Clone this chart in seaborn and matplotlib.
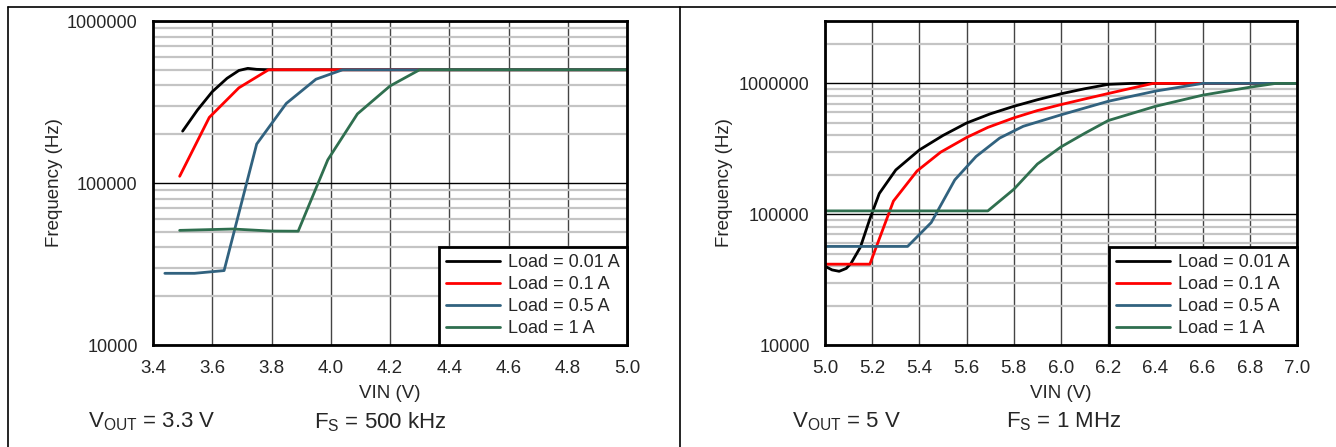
import numpy as np
import pandas as pd
import matplotlib.pyplot as plt
import seaborn as sns
from matplotlib.ticker import LogLocator, FuncFormatter, NullFormatter, MultipleLocator
from matplotlib.lines import Line2D

# ---- data (VIN in V, frequency in Hz) ----
loads = ['Load = 0.01 A', 'Load = 0.1 A', 'Load = 0.5 A', 'Load = 1 A']
colors = ['#000000', '#ff0000', '#31627f', '#2f6f4f']

# VOUT = 3.3 V, FS = 500 kHz
l_vin_001 = [3.50, 3.55, 3.60, 3.65, 3.69, 3.72, 3.75, 3.80, 5.00]
l_f_001 = [209000, 282000, 366000, 443000, 495000, 510000, 503000, 500000, 500000]
l_vin_01 = [3.49, 3.59, 3.69, 3.79, 5.00]
l_f_01 = [110000, 254000, 387000, 500000, 500000]
l_vin_05 = [3.44, 3.54, 3.64, 3.75, 3.85, 3.95, 4.04, 5.00]
l_f_05 = [27700, 27700, 28800, 174000, 310000, 437000, 500000, 500000]
l_vin_1 = [3.49, 3.67, 3.80, 3.89, 3.99, 4.09, 4.20, 4.30, 5.00]
l_f_1 = [51000, 52000, 50500, 50400, 139000, 267000, 397000, 500000, 500000]

# VOUT = 5 V, FS = 1 MHz
r_vin_001 = [5.00, 5.03, 5.06, 5.09, 5.11, 5.15, 5.19, 5.23, 5.30, 5.40, 5.50,
             5.60, 5.70, 5.80, 5.90, 6.00, 6.10, 6.20, 6.30, 7.00]
r_f_001 = [40000, 37500, 36600, 38500, 42000, 56000, 92000, 144000, 218000, 310000, 400000,
           498000, 585000, 668000, 750000, 833000, 910000, 983000, 1000000, 1000000]
r_vin_01 = [5.00, 5.19, 5.29, 5.39, 5.49, 5.60, 5.69, 5.80, 5.90, 6.00, 6.10, 6.20, 6.30, 6.39, 7.00]
r_f_01 = [41500, 41500, 126000, 214000, 298000, 386000, 461000, 545000, 620000, 689000,
          760000, 837000, 920000, 1000000, 1000000]
r_vin_05 = [5.00, 5.35, 5.45, 5.55, 5.64, 5.74, 5.84, 6.00, 6.20, 6.40, 6.60, 7.00]
r_f_05 = [56700, 56700, 86300, 183000, 276000, 382000, 470000, 575000, 730000, 873000, 1000000, 1000000]
r_vin_1 = [5.00, 5.69, 5.80, 5.90, 6.00, 6.10, 6.20, 6.40, 6.60, 6.80, 6.91, 7.00]
r_f_1 = [106000, 106000, 155000, 242000, 327000, 415000, 520000, 668000, 813000, 935000, 1000000, 1000000]


def to_frame(vins, freqs):
    parts = []
    for name, v, f in zip(loads, vins, freqs):
        parts.append(pd.DataFrame({'VIN': v, 'Freq': f, 'Load': name}))
    return pd.concat(parts, ignore_index=True)


left_df = to_frame([l_vin_001, l_vin_01, l_vin_05, l_vin_1], [l_f_001, l_f_01, l_f_05, l_f_1])
right_df = to_frame([r_vin_001, r_vin_01, r_vin_05, r_vin_1], [r_f_001, r_f_01, r_f_05, r_f_1])

sns.set_style('white')
plt.rcParams['font.family'] = ['Liberation Sans', 'DejaVu Sans']
plt.rcParams['mathtext.fontset'] = 'custom'
plt.rcParams['mathtext.rm'] = 'Liberation Sans'
plt.rcParams['mathtext.it'] = 'Liberation Sans'

W, H = 1336, 447
fig = plt.figure(figsize=(W / 100, H / 100), dpi=100)
ax1 = fig.add_axes([153 / W, 1 - 345 / H, 474 / W, 324 / H])
ax2 = fig.add_axes([825 / W, 1 - 345 / H, 472 / W, 324 / H])

palette = dict(zip(loads, colors))


def draw(ax, df, xlim, ylim, vout, fs, text_x, ylab_x):
    sns.lineplot(data=df, x='VIN', y='Freq', hue='Load', palette=palette, estimator=None,
                 sort=False, linewidth=2, ax=ax)
    ax.set_yscale('log')
    ax.set_xlim(*xlim)
    ax.set_ylim(*ylim)
    ax.xaxis.set_major_locator(MultipleLocator(0.2))
    ax.xaxis.set_major_formatter(FuncFormatter(lambda v, p: f'{v:.1f}'))
    ax.yaxis.set_major_locator(LogLocator(base=10))
    ax.yaxis.set_minor_locator(LogLocator(base=10, subs=np.arange(2, 10)))
    ax.yaxis.set_major_formatter(FuncFormatter(lambda v, p: f'{int(round(v))}'))
    ax.yaxis.set_minor_formatter(NullFormatter())
    ax.grid(which='minor', axis='y', color='#c4c4c4', linewidth=1.6)
    ax.grid(which='major', axis='y', color='#000000', linewidth=1)
    ax.grid(which='major', axis='x', color='#444444', linewidth=1)
    ax.set_axisbelow(True)
    ax.tick_params(axis='both', which='both', length=0)
    ax.tick_params(axis='x', labelsize=13.5, pad=11)
    ax.tick_params(axis='y', labelsize=13, pad=11)
    for s in ax.spines.values():
        s.set_color('black')
        s.set_linewidth(2)
    ax.set_xlabel('VIN (V)', fontsize=13.5)
    ax.set_ylabel('Frequency (Hz)', fontsize=13.5)
    ax.xaxis.set_label_coords(0.5, -0.125)
    ax.yaxis.set_label_coords(ylab_x, 0.5)
    leg = ax.legend(loc='lower right', fontsize=13, frameon=True, fancybox=False,
                    framealpha=1, edgecolor='black', borderaxespad=0, handlelength=3.0,
                    handletextpad=0.4, labelspacing=0.28, borderpad=0.42)
    leg.get_frame().set_linewidth(2)
    for h in leg.get_lines():
        h.set_linewidth(2)
    y_txt = 1 - 422 / H
    fig.text(text_x[0] / W, y_txt, vout, fontsize=16, va='center', ha='left')
    fig.text(text_x[1] / W, y_txt, fs, fontsize=16, va='center', ha='left')


draw(ax1, left_df, (3.4, 5.0), (1e4, 1e6), r'V$_{\mathrm{OUT}}$ = 3.3 V', r'F$_{\mathrm{S}}$ = 500 kHz',
     (88, 314), -0.19)
draw(ax2, right_df, (5.0, 7.0), (1e4, 3e6), r'V$_{\mathrm{OUT}}$ = 5 V', r'F$_{\mathrm{S}}$ = 1 MHz',
     (792, 1006), -0.195)

# panel frame lines
fig.add_artist(Line2D([8 / W, 1], [1 - 7 / H, 1 - 7 / H], color='black', linewidth=1.2))
fig.add_artist(Line2D([8 / W, 8 / W], [0, 1 - 7 / H], color='black', linewidth=1.2))
fig.add_artist(Line2D([680 / W, 680 / W], [0, 1 - 7 / H], color='black', linewidth=1.2))

fig.savefig('out.png', dpi=100)
